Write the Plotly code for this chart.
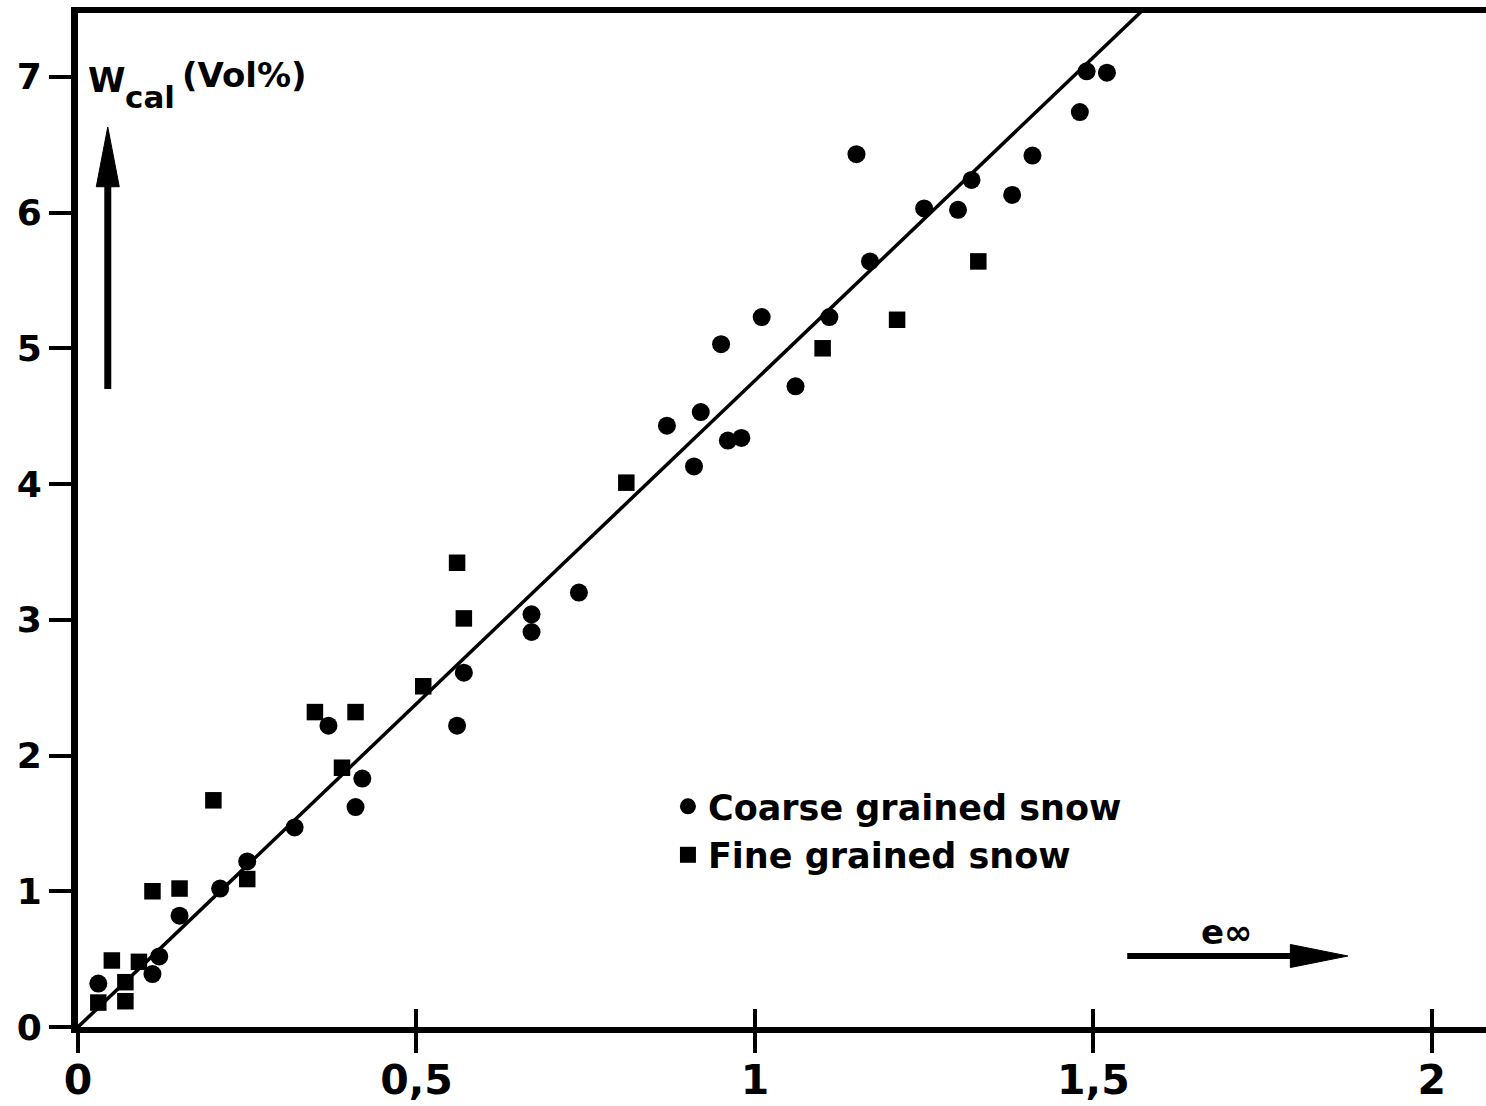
import plotly.graph_objects as go

# ---- data ----
coarse_e = [0.03, 0.11, 0.12, 0.15, 0.21, 0.25, 0.32, 0.37, 0.41, 0.42, 0.56, 0.57,
            0.67, 0.67, 0.74, 0.87, 0.91, 0.92, 0.95, 0.96, 0.98, 1.01, 1.06, 1.11,
            1.15, 1.17, 1.25, 1.30, 1.32, 1.38, 1.41, 1.48, 1.49, 1.52]
coarse_w = [0.32, 0.39, 0.52, 0.82, 1.02, 1.22, 1.47, 2.22, 1.62, 1.83, 2.22, 2.61,
            3.04, 2.91, 3.20, 4.43, 4.13, 4.53, 5.03, 4.32, 4.34, 5.23, 4.72, 5.23,
            6.43, 5.64, 6.03, 6.02, 6.24, 6.13, 6.42, 6.74, 7.04, 7.03]

fine_e = [0.03, 0.05, 0.07, 0.07, 0.09, 0.11, 0.15, 0.20, 0.25, 0.35, 0.39, 0.41,
          0.51, 0.56, 0.57, 0.81, 1.10, 1.21, 1.33]
fine_w = [0.18, 0.49, 0.33, 0.19, 0.48, 1.00, 1.02, 1.67, 1.09, 2.32, 1.91, 2.32,
          2.51, 3.42, 3.01, 4.01, 5.00, 5.21, 5.64]

fit_e = [0.0, 1.60]
fit_w = [0.0, 7.62]

x_tickvals = [0, 0.5, 1, 1.5, 2]
x_ticktext = ["0", "0,5", "1", "1,5", "2"]
y_tickvals = [0, 1, 2, 3, 4, 5, 6, 7]
y_ticktext = ["0", "1", "2", "3", "4", "5", "6", "7"]

series_names = ["Coarse grained snow", "Fine grained snow"]

FONT = "DejaVu Sans"
BLACK = "black"

fig = go.Figure()

fig.add_trace(go.Scatter(x=fit_e, y=fit_w, mode="lines",
                         line=dict(color=BLACK, width=3.5), showlegend=False,
                         hoverinfo="skip"))
fig.add_trace(go.Scatter(x=coarse_e, y=coarse_w, mode="markers", name=series_names[0],
                         marker=dict(symbol="circle", size=18, color=BLACK)))
fig.add_trace(go.Scatter(x=fine_e, y=fine_w, mode="markers", name=series_names[1],
                         marker=dict(symbol="square", size=16.5, color=BLACK)))
# invisible trace to carry the inner half of the crossing x ticks
fig.add_trace(go.Scatter(x=[0], y=[0], xaxis="x2", mode="markers",
                         marker=dict(size=1, opacity=0), showlegend=False,
                         hoverinfo="skip"))

fig.update_layout(
    width=1486, height=1106,
    margin=dict(l=78, r=0, t=13, b=79),
    paper_bgcolor="white", plot_bgcolor="white",
    font=dict(family=FONT, color=BLACK, weight="bold"),
    showlegend=True,
    legend=dict(x=0.419, y=0.2465, xanchor="left", yanchor="top",
                font=dict(family=FONT, size=35, color=BLACK, weight="bold"),
                bgcolor="rgba(0,0,0,0)", itemsizing="trace", tracegroupgap=0),
    xaxis=dict(range=[0, 2.08], showgrid=False, zeroline=False, automargin=False,
               showline=True, linecolor=BLACK, linewidth=6, mirror=True,
               ticks="outside", ticklen=20, tickwidth=4, tickcolor=BLACK,
               tickvals=x_tickvals, ticktext=x_ticktext, ticklabelstandoff=-8,
               tickfont=dict(family=FONT, size=41, color=BLACK, weight="bold")),
    xaxis2=dict(overlaying="x", matches="x", anchor="y", side="bottom",
                showgrid=False, zeroline=False, showline=False, automargin=False,
                ticks="inside", ticklen=18, tickwidth=4, tickcolor=BLACK,
                tickvals=x_tickvals, showticklabels=False),
    yaxis=dict(range=[0, 7.47], showgrid=False, zeroline=False, automargin=False,
               showline=True, linecolor=BLACK, linewidth=7, mirror=False,
               ticks="outside", ticklen=22, tickwidth=4, tickcolor=BLACK,
               tickvals=y_tickvals, ticktext=y_ticktext,
               tickfont=dict(family=FONT, size=36, color=BLACK, weight="bold")),
)

# axis titles (W_cal (Vol%) and e-infinity) as text
fig.add_annotation(x=0.012, y=6.98, xref="x", yref="y", text="W", showarrow=False,
                   xanchor="left", yanchor="middle",
                   font=dict(family=FONT, size=34, color=BLACK, weight="bold"))
fig.add_annotation(x=0.066, y=6.85, xref="x", yref="y", text="cal", showarrow=False,
                   xanchor="left", yanchor="middle",
                   font=dict(family=FONT, size=31, color=BLACK, weight="bold"))
fig.add_annotation(x=0.150, y=7.01, xref="x", yref="y", text="(Vol%)", showarrow=False,
                   xanchor="left", yanchor="middle",
                   font=dict(family=FONT, size=34, color=BLACK, weight="bold"))
fig.add_annotation(x=1.696, y=0.70, xref="x", yref="y", text="e∞", showarrow=False,
                   xanchor="center", yanchor="middle",
                   font=dict(family=FONT, size=34, color=BLACK, weight="bold"))

# arrows drawn as shapes
v_x, v_y0, v_base, v_tip, v_hw = 0.044, 4.70, 6.19, 6.63, 0.017
h_y, h_x0, h_base, h_tip, h_hh = 0.523, 1.550, 1.791, 1.876, 0.085

fig.add_shape(type="line", xref="x", yref="y", x0=v_x, x1=v_x, y0=v_y0, y1=v_base + 0.05,
              line=dict(color=BLACK, width=7))
fig.add_shape(type="path", xref="x", yref="y",
              path=f"M {v_x - v_hw},{v_base} L {v_x},{v_tip} L {v_x + v_hw},{v_base} Z",
              fillcolor=BLACK, line=dict(color=BLACK, width=1))
fig.add_shape(type="line", xref="x", yref="y", x0=h_x0, x1=h_base + 0.01, y0=h_y, y1=h_y,
              line=dict(color=BLACK, width=6))
fig.add_shape(type="path", xref="x", yref="y",
              path=f"M {h_base},{h_y - h_hh} L {h_tip},{h_y} L {h_base},{h_y + h_hh} Z",
              fillcolor=BLACK, line=dict(color=BLACK, width=1))

fig.write_html("out.html")
